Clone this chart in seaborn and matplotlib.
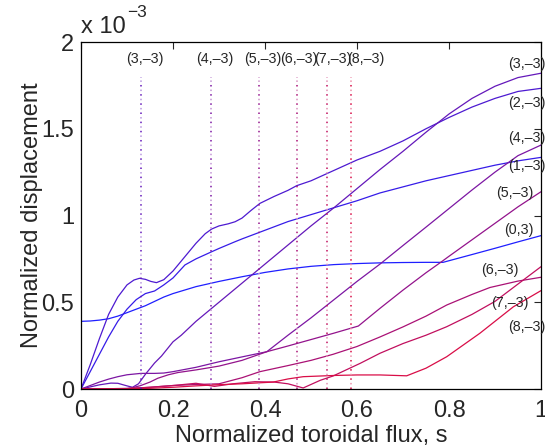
import numpy as np
import pandas as pd
import matplotlib
matplotlib.use('Agg')
import matplotlib.pyplot as plt
import seaborn as sns

# displacement per mode (units of 1e-3)
s_03 = [0, 0.02, 0.04, 0.06, 0.08, 0.1, 0.12, 0.14, 0.16, 0.18, 0.2, 0.25, 0.3, 0.35, 0.4, 0.45, 0.5,
        0.55, 0.6, 0.65, 0.7, 0.75, 0.787, 0.85, 0.9, 0.95, 1.0]
d_03 = [0.39, 0.392, 0.397, 0.405, 0.42, 0.44, 0.46, 0.48, 0.505, 0.53, 0.55, 0.59, 0.62, 0.647, 0.672,
        0.692, 0.707, 0.717, 0.723, 0.727, 0.729, 0.73, 0.73, 0.775, 0.811, 0.848, 0.884]

s_13 = [0, 0.02, 0.04, 0.06, 0.08, 0.1, 0.12, 0.14, 0.16, 0.18, 0.2, 0.226, 0.25, 0.284, 0.3, 0.335,
        0.35, 0.4, 0.45, 0.5, 0.55, 0.6, 0.65, 0.7, 0.75, 0.8, 0.85, 0.9, 0.95, 1.0]
d_13 = [0, 0.1, 0.2, 0.3, 0.39, 0.46, 0.515, 0.55, 0.565, 0.6, 0.64, 0.715, 0.75, 0.791, 0.81, 0.849,
        0.865, 0.915, 0.965, 1.005, 1.045, 1.085, 1.13, 1.165, 1.2, 1.23, 1.26, 1.29, 1.315, 1.335]

s_23 = [0, 0.02, 0.04, 0.06, 0.08, 0.1, 0.115, 0.127, 0.14, 0.152, 0.164, 0.18, 0.2, 0.225, 0.25,
        0.27, 0.284, 0.3, 0.32, 0.335, 0.35, 0.37, 0.389, 0.42, 0.45, 0.469, 0.5, 0.55, 0.6, 0.65,
        0.7, 0.75, 0.8, 0.85, 0.9, 0.95, 1.0]
d_23 = [0, 0.14, 0.29, 0.43, 0.53, 0.6, 0.628, 0.638, 0.632, 0.62, 0.613, 0.63, 0.68, 0.76, 0.84,
        0.895, 0.922, 0.94, 0.952, 0.964, 0.985, 1.03, 1.07, 1.11, 1.145, 1.172, 1.2, 1.26, 1.32, 1.37,
        1.43, 1.5, 1.565, 1.625, 1.675, 1.715, 1.733]

s_33 = [0, 0.02, 0.04, 0.065, 0.08, 0.1, 0.112, 0.125, 0.14, 0.16, 0.175, 0.2, 0.218, 0.25, 0.3,
        0.35, 0.4, 0.45, 0.5, 0.55, 0.6, 0.65, 0.7, 0.75, 0.8, 0.85, 0.9, 0.95, 1.0]
d_33 = [0, 0.012, 0.024, 0.034, 0.033, 0.018, 0.01, 0.03, 0.085, 0.15, 0.19, 0.272, 0.31, 0.39, 0.5,
        0.61, 0.72, 0.83, 0.94, 1.045, 1.155, 1.265, 1.37, 1.48, 1.585, 1.675, 1.745, 1.795, 1.82]

s_43 = [0, 0.02, 0.04, 0.06, 0.08, 0.1, 0.13, 0.16, 0.18, 0.2, 0.25, 0.3, 0.35, 0.404, 0.45, 0.5,
        0.55, 0.6, 0.65, 0.7, 0.75, 0.8, 0.85, 0.9, 0.95, 1.0]
d_43 = [0, 0.02, 0.04, 0.057, 0.071, 0.082, 0.09, 0.09, 0.092, 0.1, 0.125, 0.157, 0.185, 0.215, 0.31,
        0.41, 0.515, 0.62, 0.72, 0.827, 0.933, 1.04, 1.147, 1.25, 1.345, 1.406]

s_53 = [0, 0.1, 0.113, 0.13, 0.15, 0.167, 0.19, 0.211, 0.25, 0.3, 0.35, 0.404, 0.45, 0.5, 0.527, 0.55,
        0.603, 0.65, 0.7, 0.75, 0.784, 0.8, 0.85, 0.9, 0.95, 1.0]
d_53 = [0, 0.003, 0.008, 0.02, 0.04, 0.062, 0.082, 0.095, 0.11, 0.132, 0.165, 0.215, 0.248, 0.285,
        0.305, 0.322, 0.363, 0.465, 0.57, 0.67, 0.734, 0.765, 0.86, 0.955, 1.05, 1.137]

s_63 = [0, 0.1, 0.15, 0.2, 0.25, 0.3, 0.35, 0.389, 0.45, 0.5, 0.548, 0.6, 0.65, 0.7, 0.75, 0.795,
        0.85, 0.889, 0.95, 1.0]
d_63 = [0, 0.003, 0.01, 0.02, 0.026, 0.03, 0.065, 0.1, 0.135, 0.165, 0.2, 0.245, 0.3, 0.358, 0.42,
        0.484, 0.545, 0.585, 0.622, 0.644]

s_73 = [0, 0.1, 0.15, 0.2, 0.25, 0.29, 0.33, 0.378, 0.42, 0.45, 0.483, 0.52, 0.548, 0.607, 0.65, 0.7,
        0.75, 0.795, 0.85, 0.9, 0.95, 1.0]
d_73 = [0, 0.002, 0.01, 0.02, 0.033, 0.015, 0.03, 0.042, 0.04, 0.03, 0.006, 0.05, 0.075, 0.148, 0.206,
        0.262, 0.31, 0.359, 0.43, 0.505, 0.605, 0.705]

s_83 = [0, 0.1, 0.15, 0.2, 0.25, 0.3, 0.35, 0.418, 0.45, 0.483, 0.55, 0.6, 0.65, 0.708, 0.75, 0.795,
        0.867, 0.94, 1.0]
d_83 = [0, 0.001, 0.004, 0.01, 0.018, 0.025, 0.03, 0.04, 0.058, 0.071, 0.078, 0.081, 0.081, 0.076,
        0.12, 0.186, 0.321, 0.474, 0.567]

modes = ['(0,3)', '(1,–3)', '(2,–3)', '(3,–3)', '(4,–3)', '(5,–3)', '(6,–3)', '(7,–3)', '(8,–3)']
m_values = [0, 1, 2, 3, 4, 5, 6, 7, 8]
s_list = [s_03, s_13, s_23, s_33, s_43, s_53, s_63, s_73, s_83]
d_list = [d_03, d_13, d_23, d_33, d_43, d_53, d_63, d_73, d_83]

# rational surfaces (resonant modes m = 3..8)
res_s = [0.130, 0.283, 0.388, 0.469, 0.534, 0.586]
res_m = [3, 4, 5, 6, 7, 8]
res_labels = ['(3,–3)', '(4,–3)', '(5,–3)', '(6,–3)', '(7,–3)', '(8,–3)']
res_label_x = [0.138, 0.290, 0.396, 0.474, 0.547, 0.619]

# end labels
end_labels = ['(3,–3)', '(2,–3)', '(4,–3)', '(1,–3)', '(5,–3)', '(0,3)', '(6,–3)', '(7,–3)', '(8,–3)']
end_x = [0.969, 0.969, 0.969, 0.969, 0.943, 0.951, 0.911, 0.933, 0.969]
end_y = [1.873, 1.65, 1.448, 1.285, 1.128, 0.916, 0.686, 0.497, 0.359]

rows = []
for name, s, d in zip(modes, s_list, d_list):
    for si, di in zip(s, d):
        rows.append({'s': si, 'disp': di, 'mode': name})
df = pd.DataFrame(rows)


def mode_color(m):
    t = m / 8
    return (0.12 + 0.73 * t, 0.12 - 0.07 * t, 1.0 - 0.72 * t)


colors = [mode_color(m) for m in m_values]

sns.set_style('white')
plt.rcParams['font.family'] = ['Liberation Sans', 'DejaVu Sans']

fig = plt.figure(figsize=(5.45, 4.47), dpi=100)
ax = fig.add_axes([81 / 545, 1 - 389 / 447, 460 / 545, 347 / 447])

sns.lineplot(data=df, x='s', y='disp', hue='mode', hue_order=modes, palette=colors,
             estimator=None, sort=False, legend=False, lw=0.9, ax=ax)

for x, m in zip(res_s, res_m):
    c = mode_color(m)
    light = tuple(0.45 * ci + 0.55 for ci in c)
    ax.plot([x, x], [0, 1.8], color=c, lw=1.1, linestyle=(0, (1.0, 5.0)))
    ax.plot([x, x], [0, 1.8], color=light, lw=1.1, linestyle=(3.0, (1.0, 5.0)))

for lab, x in zip(res_labels, res_label_x):
    ax.text(x, 1.9, lab, ha='center', va='center', fontsize=10.3)

for lab, x, y in zip(end_labels, end_x, end_y):
    ax.text(x, y, lab, ha='center', va='center', fontsize=10.3)

ax.set_xlim(0, 1)
ax.set_ylim(0, 2)
ax.set_xticks([0, 0.2, 0.4, 0.6, 0.8, 1])
ax.set_yticks([0, 0.5, 1, 1.5, 2])
ax.xaxis.set_major_formatter(matplotlib.ticker.FuncFormatter(lambda v, p: '%g' % v))
ax.yaxis.set_major_formatter(matplotlib.ticker.FuncFormatter(lambda v, p: '%g' % v))
ax.tick_params(direction='in', top=True, right=True, length=5, width=0.8, labelsize=17)
ax.tick_params(axis='x', pad=8)
ax.tick_params(axis='y', pad=5)
for sp in ax.spines.values():
    sp.set_color('black')
    sp.set_linewidth(0.9)

ax.set_xlabel('Normalized toroidal flux, s', fontsize=17, labelpad=2)
ax.set_ylabel('Normalized displacement', fontsize=17, labelpad=-1)

ax.text(0.0, 1.012, 'x 10', transform=ax.transAxes, ha='left', va='bottom', fontsize=17)
ax.text(0.1, 1.062, '−3', transform=ax.transAxes, ha='left', va='bottom', fontsize=12.5)

fig.savefig('out.png', dpi=100)
